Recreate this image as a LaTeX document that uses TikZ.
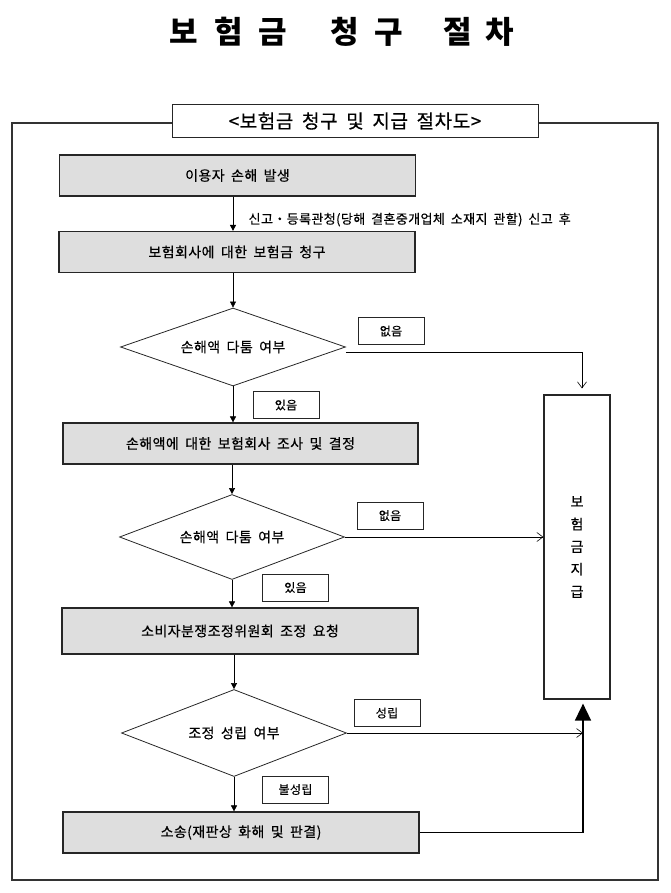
\documentclass[tikz,border=0pt]{standalone}
\usepackage{fontspec}
\setmainfont[WordSpace=1.8,LetterSpace=3,UprightFeatures={FakeBold=0.4}]{Noto Sans CJK KR}
\usetikzlibrary{shapes.geometric,arrows.meta}
\begin{document}
\begin{tikzpicture}[x=1pt,y=-1pt,
    stepbox/.style={draw=black!85, line width=1.2pt, fill=black!13, minimum width=356, minimum height=41, font=\fontsize{14}{16}\selectfont},
    query/.style={diamond, shape aspect=2.8, draw=black!85, line width=0.8pt, minimum width=225, minimum height=78, inner sep=0pt, font=\fontsize{14}{16}\selectfont},
    tag/.style={draw=black!85, line width=0.9pt, minimum width=66, minimum height=27, inner sep=0pt, font=\fontsize{12}{14}\selectfont},
    flow/.style={-{Triangle[length=6pt,width=6pt]}, line width=0.6pt},
    open/.style={-{Straight Barb[length=6pt,width=9pt]}, line width=0.6pt}]
    \useasboundingbox (0,0) rectangle (670,893);
    \node[font=\bfseries\fontsize{31}{36}\selectfont] (title) at (342,32) {보\hspace{16pt}험\hspace{16pt}금\hspace{43pt}청\hspace{16pt}구\hspace{40pt}절\hspace{14pt}차};
    \draw[line width=1.4pt, black!80] (12,123) rectangle (658,880);
    \node[draw=black!85, line width=1pt, fill=white, minimum width=366, minimum height=33, font=\fontsize{19}{22}\selectfont] (head) at (355,121) {<보험금 청구 및 지급 절차도>};

    \node[stepbox] (occur) at (237.5,175.5) {이용자 손해 발생};
    \node[stepbox] (claim) at (237,252) {보험회사에 대한 보험금 청구};
    \node[query] (dispute1) at (233,347) {손해액 다툼 여부};
    \node[tag] (none1) at (391,331) {없음};
    \node[tag] (exist1) at (286,405) {있음};
    \node[stepbox, minimum width=355] (survey) at (240.5,443.5) {손해액에 대한 보험회사 조사 및 결정};
    \node[query, minimum height=85] (dispute2) at (232,537) {손해액 다툼 여부};
    \node[tag] (none2) at (390,515.5) {없음};
    \node[tag] (exist2) at (295.5,587.5) {있음};
    \node[stepbox, minimum height=46] (mediate) at (240,631) {소비자분쟁조정위원회 조정 요청};
    \node[query, minimum height=87] (agree) at (234,733) {조정 성립 여부};
    \node[tag] (done) at (387,713) {성립};
    \node[tag] (fail) at (295.5,789.5) {불성립};
    \node[stepbox] (suit) at (241,832.5) {소송(재판상 화해 및 판결)};
    \node[draw=black!85, line width=1.2pt, minimum width=66, minimum height=304, align=center, font=\fontsize{14}{22.5}\selectfont] (pay) at (577,547) {보\\험\\금\\지\\급};
    \coordinate (join) at ([xshift=6pt]pay.south);

    \draw[flow] (occur.south -| dispute1) to node[pos=0.67, right=12pt, font=\fontsize{13}{15}\selectfont] {신고・등록관청(당해 결혼중개업체 소재지 관할) 신고 후} (claim.north -| dispute1);
    \draw[flow] (claim.south -| dispute1) to (dispute1.north);
    \draw[open, shorten >=6pt] ([yshift=-5pt]dispute1.east) -| ([xshift=5pt]pay.north);
    \draw[flow] (dispute1.south) to (survey.north -| dispute1);
    \draw[flow] (survey.south -| dispute2) to (dispute2.north);
    \draw[open] (dispute2.east) to (pay.west |- dispute2);
    \draw[flow] (dispute2.south) to (mediate.north -| dispute2);
    \draw[flow] (mediate.south -| agree) to (agree.north);
    \draw[open] (agree.east) to (agree.east -| join);
    \draw[flow] (agree.south) to (suit.north -| agree);
    \draw[line width=1.6pt, -{Triangle[length=17pt,width=16pt]}, shorten >=4pt] (suit.east) -| (join);
\end{tikzpicture}
\end{document}
